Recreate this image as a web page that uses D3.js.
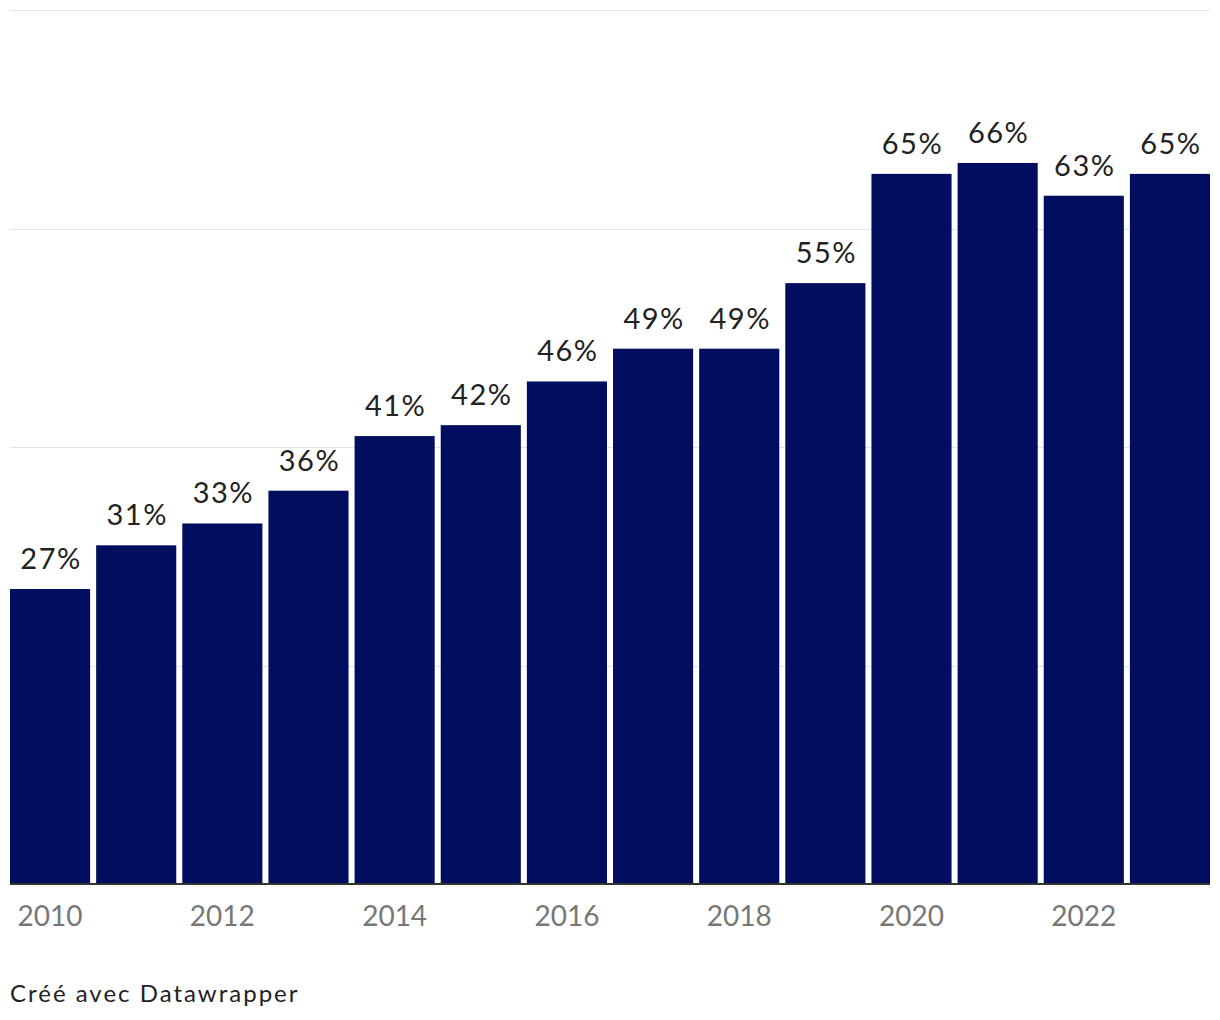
<!DOCTYPE html>
<html><head><meta charset="utf-8">
<script src="https://cdn.jsdelivr.net/npm/d3@7"></script>
<style>body{margin:0;background:#fff}svg{display:block}</style>
</head><body>
<svg id="c" width="1220" height="1020"></svg>
<script>
const years = [2010,2011,2012,2013,2014,2015,2016,2017,2018,2019,2020,2021,2022,2023];
const values = [27,31,33,36,41,42,46,49,49,55,65,66,63,65];
const yTicks = [20,40,60,80];
const xTickLabels = [2010,2012,2014,2016,2018,2020,2022];

const svg = d3.select("#c");
const font = "Lato, 'Open Sans', sans-serif";
const x = d3.scaleBand().domain(years).range([10,1210]).paddingInner(0.07).paddingOuter(0);
const y = d3.scaleLinear().domain([0,80]).range([884,10]);

svg.append("g").selectAll("line").data(yTicks).join("line")
  .attr("x1",10).attr("x2",1210).attr("y1",d=>Math.round(y(d))+0.5).attr("y2",d=>Math.round(y(d))+0.5)
  .attr("stroke","#e3e3e3").attr("stroke-width",1);

svg.append("g").selectAll("rect").data(values).join("rect")
  .attr("x",(d,i)=>x(years[i])).attr("width",x.bandwidth())
  .attr("y",d=>y(d)).attr("height",d=>y(0)-y(d))
  .attr("fill","#010d5e");

svg.append("g").selectAll("text").data(values).join("text")
  .attr("x",(d,i)=>x(years[i])+x.bandwidth()/2+1).attr("y",d=>y(d)-20)
  .attr("text-anchor","middle").attr("font-family",font).attr("font-size",29)
  .attr("letter-spacing","1.5px")
  .attr("fill","#222").text(d=>d+"%");

svg.append("line").attr("x1",10).attr("x2",1210).attr("y1",884).attr("y2",884)
  .attr("stroke","#333").attr("stroke-width",2);

const xa = svg.append("g").attr("transform","translate(0,884)")
  .call(d3.axisBottom(x).tickValues(xTickLabels).tickSize(0).tickPadding(22).tickFormat(d=>d));
xa.select(".domain").remove();
xa.selectAll("text").attr("font-family",font).attr("font-size",28).attr("fill","#777").attr("dy","0.71em");

svg.append("text").attr("x",10).attr("y",1002).attr("font-family",font).attr("font-size",24)
  .attr("letter-spacing","2px")
  .attr("fill","#222").text("Créé avec Datawrapper");
</script>
</body></html>
